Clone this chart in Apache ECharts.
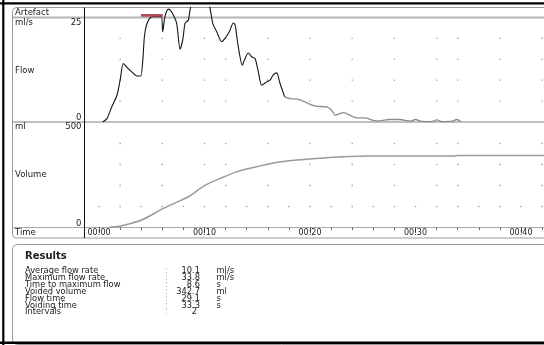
<!DOCTYPE html>
<html><head><meta charset="utf-8">
<script src="https://cdn.jsdelivr.net/npm/echarts@6/dist/echarts.min.js"></script>
<style>html,body{margin:0;padding:0;background:#fff;overflow:hidden}#c{width:544px;height:345px}</style>
</head><body><div id="c"></div>
<script>
// ---- data ----
const flowTimes  = [0.35,0.75,1.2,1.7,2.0,2.3,2.6,3.1,3.6,3.95,4.15,4.3,4.5,4.8,5.15,5.9,6.03,6.25,6.57,6.73,7.04,7.36,7.68,7.93,8.15,8.31,8.47,8.63,8.8,9.3,9.9,10.5,10.78,11.15,11.63,11.94,12.35,12.73,12.9,13.2,13.58,13.84,14.15,14.47,14.79,15.1,15.42,15.9,16.2,16.5,16.84,17.16,17.6,18.1,18.9,19.7,20.5,21.6,22.05,22.4,22.8,23.2,23.8,24.4,25.2,26.0,26.6,27.5,28.5,29.5,30.0,30.5,31.5,32.0,32.5,33.5,33.9,34.3];
const flowValues = [0,0.8,3.6,6.4,10,14,13.2,12,11,11,14.8,20.4,23.2,24.8,25.2,25.2,21.6,25.2,27,26.8,25.6,23.6,17.4,19.6,23.6,24,24.4,26.8,29,33.8,31,27.4,23.6,21.6,19.2,20,21.6,23.7,23.2,18,13.6,15.2,16.5,15.6,15.2,12,8.8,9.6,10,11.2,11.75,9.2,6,5.6,5.4,4.6,3.8,3.6,2.8,1.6,2.0,2.25,1.6,1.0,1.0,0.4,0.25,0.6,0.6,0.2,0.6,0.2,0.1,0.5,0.1,0.2,0.6,0.1];
const volumeTimes  = [0.9,2.0,4.05,6.1,7.7,8.6,10.0,11.5,13.1,15.0,16.8,18.7,20.9,23.2,25.4,27.0,33.7,33.9,42.2];
const volumeValues = [0,7,36,91,128,150,199,234,266,290,310,321,330,337,340,340.5,340.5,343,343];
const artefactIntervals = [[3.98, 6.04]];
const flowColourSplitTime = 17.6;
const timeTickLabels = [0,10,20,30,40];
const minorTickTimes = [0,2,4,6,8,10,12,14,16,18,20,22,24,26,28,30,32,34,36,38,40,42];
const dotTimes = [2,6,10,12,16,20,24,28,32,34,38,42];
const flowDotLevels = [5,10,15,20];
const volumeDotLevels = [200,300,400];
const volumeBaseDotLevel = 100;
const flowAxisLabels = ['25','0'];
const volumeAxisLabels = ['500','0'];
const resultLabels = ['Average flow rate','Maximum flow rate','Time to maximum flow','Voided volume','Flow time','Voiding time','Intervals'];
const resultValues = ['10.1','33.8','8.6','342.7','29.1','33.3','2'];
const resultUnits  = ['ml/s','ml/s','s','ml','s','s',''];

// ---- build ----
const FONT = 'DejaVu Sans';
const flowData = flowTimes.map((t,i)=>[t, flowValues[i]]);
const flowDark = flowData.filter(p => p[0] <= flowColourSplitTime);
const flowLight = flowData.filter(p => p[0] >= flowColourSplitTime);
const volData = volumeTimes.map((t,i)=>[t, volumeValues[i]]);
const artefactSeries = artefactIntervals.map(iv => ({
  type:'line', xAxisIndex:0, yAxisIndex:0, data:[[iv[0],25.5],[iv[1],25.5]], showSymbol:false,
  lineStyle:{width:2.6, color:'#b04a55'}, itemStyle:{color:'#b04a55'}, z:5, silent:true
}));
const flowDots = [];
flowDotLevels.forEach(l => dotTimes.forEach(t => flowDots.push([t,l])));
const volDots = [];
volumeDotLevels.forEach(l => dotTimes.forEach(t => volDots.push([t,l])));
minorTickTimes.forEach(t => volDots.push([t, volumeBaseDotLevel]));

const XMIN = -1.33, XMAX = 42.18;
const pad = v => '00:' + String(v).padStart(2,'0');

const g = [];
const line = (x1,y1,x2,y2,stroke,w,z) => g.push({type:'line', shape:{x1,y1,x2,y2}, style:{stroke, lineWidth:w}, z: z||0, silent:true});
const text = (x,y,s,opt) => g.push(Object.assign({type:'text', x, y, style:Object.assign({text:s, font:'8.5px "'+FONT+'"', fill:'#222', textVerticalAlign:'middle', textAlign:'left'}, opt||{}), z:5, silent:true}));

// frames
g.push({type:'rect', shape:{x:12.5,y:7.5,width:540,height:230.5,r:[4,0,0,4]}, style:{stroke:'#9a9a9a', fill:null, lineWidth:1}, z:0, silent:true});
g.push({type:'rect', shape:{x:12.5,y:244.5,width:540,height:100,r:[5,0,0,5]}, style:{stroke:'#9a9a9a', fill:null, lineWidth:1}, z:0, silent:true});
line(12.5,17.5,544,17.5,'#b5b5b5',2);
line(12.5,122,544,122,'#aaaaaa',1.5);
line(12.5,227.5,544,227.5,'#aaaaaa',1);
line(84.5,7.5,84.5,238,'#111',1,3);
line(0,3.3,544,3.3,'#000',2.2,10);
line(3.3,0,3.3,345,'#000',2.2,10);
line(0,342.8,544,342.8,'#000',2.6,10);

// left column labels
text(15,12.5,'Artefact');
text(15,22.5,'ml/s');
text(81.5,22.5,flowAxisLabels[0],{textAlign:'right'});
text(15,71,'Flow');
text(81.5,118,flowAxisLabels[1],{textAlign:'right'});
text(15,126.5,'ml');
text(81.5,126.5,volumeAxisLabels[0],{textAlign:'right'});
text(15,175,'Volume');
text(81.5,224,volumeAxisLabels[1],{textAlign:'right'});
text(15,233,'Time');

// results
const RF = '8.3px "'+FONT+'"';
text(25,256.7,'Results',{font:'bold 10px "'+FONT+'"'});
resultLabels.forEach((lab,i) => {
  const y = 271.3 + i*6.83;
  text(25,y,lab,{font:RF});
  text(165,y,':',{font:RF, fill:'#aaa'});
  const parts = resultValues[i].split('.');
  if (parts.length > 1) {
    text(192,y,parts[0],{font:RF, textAlign:'right'});
    text(192,y,'.'+parts[1],{font:RF});
  } else {
    text(197,y,parts[0],{font:RF, textAlign:'right'});
  }
  if (resultUnits[i]) text(216.5,y,resultUnits[i],{font:RF});
});

const chart = echarts.init(document.getElementById('c'), null, {renderer:'canvas'});
chart.setOption({
  animation:false,
  backgroundColor:'#fff',
  grid:[
    {left:85, top:7.3, width:459, height:114.7},
    {left:85, top:122.5, width:459, height:105}
  ],
  xAxis:[
    {gridIndex:0, type:'value', min:XMIN, max:XMAX, show:false},
    {gridIndex:1, type:'value', min:XMIN, max:XMAX, position:'bottom',
      axisLine:{show:false}, splitLine:{show:false},
      axisTick:{show:true, customValues:minorTickTimes, length:2.5, lineStyle:{color:'#666', width:1}},
      axisLabel:{show:false}},
    {gridIndex:1, type:'value', min:XMIN, max:XMAX, position:'bottom',
      axisLine:{show:false}, splitLine:{show:false},
      axisTick:{show:true, customValues:timeTickLabels, length:5.5, lineStyle:{color:'#444', width:1}},
      axisLabel:{show:true, customValues:timeTickLabels, formatter:v=>pad(v), margin:1.5,
        fontFamily:FONT, fontSize:8, color:'#222'}}
  ],
  yAxis:[
    {gridIndex:0, type:'value', min:0, max:27.44, show:false},
    {gridIndex:1, type:'value', min:0, max:500, show:false}
  ],
  series:[
    {type:'line', xAxisIndex:0, yAxisIndex:0, data:flowDark, showSymbol:false, smooth:0.25,
      lineStyle:{width:1.1, color:'#151515'}, itemStyle:{color:'#151515'}, z:4, silent:true, clip:true},
    {type:'line', xAxisIndex:0, yAxisIndex:0, data:flowLight, showSymbol:false, smooth:0.25,
      lineStyle:{width:1.3, color:'#8c8c8c'}, itemStyle:{color:'#8c8c8c'}, z:4, silent:true, clip:true},
    {type:'line', xAxisIndex:1, yAxisIndex:1, data:volData, showSymbol:false, smooth:0.3,
      lineStyle:{width:1.5, color:'#9a9a9a'}, itemStyle:{color:'#9a9a9a'}, z:4, silent:true},
    {type:'scatter', xAxisIndex:0, yAxisIndex:0, data:flowDots, symbol:'rect', symbolSize:1.3,
      itemStyle:{color:'#888'}, silent:true, z:1},
    {type:'scatter', xAxisIndex:1, yAxisIndex:1, data:volDots, symbol:'rect', symbolSize:1.3,
      itemStyle:{color:'#888'}, silent:true, z:1}
  ].concat(artefactSeries),
  graphic:{elements:g}
});
</script></body></html>
